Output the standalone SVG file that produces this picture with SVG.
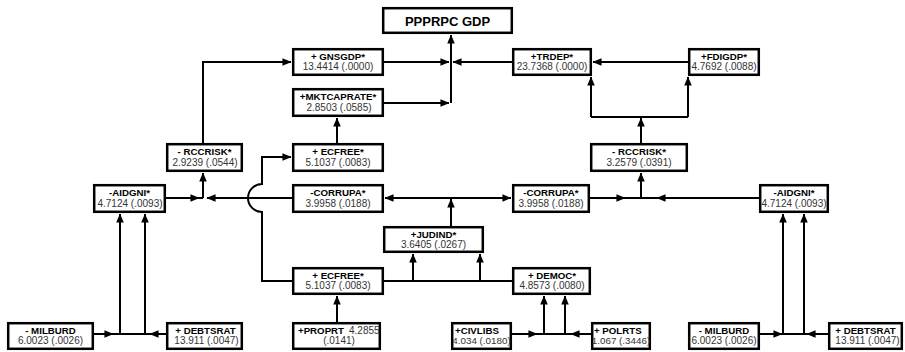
<svg xmlns="http://www.w3.org/2000/svg" width="905" height="352" viewBox="0 0 905 352">
<defs>
<marker id="ah" markerUnits="userSpaceOnUse" viewBox="0 0 10 10" refX="9.5" refY="5" markerWidth="9" markerHeight="9" orient="auto">
<path d="M0,0.8 L10,5 L0,9.2 z" fill="#000"/>
</marker>
<style>
.box{fill:#fff;stroke:#000;stroke-width:2.5}
.c path{fill:none;stroke:#000;stroke-width:2}
.a{marker-end:url(#ah)}
text{font-family:"Liberation Sans",Arial,Helvetica,sans-serif;text-anchor:middle}
.t{font-size:9.7px;font-weight:bold;fill:#000}
.v{font-size:10px;fill:#333}
.n{font-size:9.8px}
.title{font-size:13px;font-weight:bold;fill:#000}
</style>
</defs>
<rect width="905" height="352" fill="#fff"/>

<g id="connectors" class="c">
<path d="M384,62 H449" class="a"/>
<path d="M512,62 H453" class="a"/>
<path d="M384,103 H449" class="a"/>
<path d="M451,103 V35" class="a"/>
<path d="M203,143 V62 H291" class="a"/>
<path d="M337,143 V118" class="a"/>
<path d="M688,62 H593" class="a"/>
<path d="M641,143 V118" class="a"/>
<path d="M591,117 H688"/>
<path d="M591,117 V77" class="a"/>
<path d="M688,117 V77" class="a"/>
<path d="M166,198 H199" class="a"/>
<path d="M199,198 H203"/>
<path d="M292,198 H207" class="a"/>
<path d="M203,198 V173" class="a"/>
<path d="M292,281 H262 V212 A14,14 0 0 1 262,184 V157 H291" class="a"/>
<path d="M451,198 H385" class="a"/>
<path d="M451,198 H511" class="a"/>
<path d="M451,226 V199" class="a"/>
<path d="M590,198 H625" class="a"/>
<path d="M625,198 H641"/>
<path d="M759,198 H657" class="a"/>
<path d="M657,198 H641"/>
<path d="M641,198 V173" class="a"/>
<path d="M384,281 H512"/>
<path d="M413,281 V254" class="a"/>
<path d="M480,281 V254" class="a"/>
<path d="M337,322 V296" class="a"/>
<path d="M512,334 H537" class="a"/>
<path d="M537,334 H544"/>
<path d="M591,334 H571" class="a"/>
<path d="M571,334 H565"/>
<path d="M544,334 V296" class="a"/>
<path d="M565,334 V296" class="a"/>
<path d="M544,334 H565"/>
<path d="M94,334 H113" class="a"/>
<path d="M113,334 H120"/>
<path d="M166,334 H150" class="a"/>
<path d="M150,334 H145"/>
<path d="M120,334 H145"/>
<path d="M120,334 V214" class="a"/>
<path d="M145,334 V214" class="a"/>
<path d="M760,334 H782" class="a"/>
<path d="M782,334 H783"/>
<path d="M828,334 H807" class="a"/>
<path d="M807,334 H804"/>
<path d="M783,334 H804"/>
<path d="M783,334 V214" class="a"/>
<path d="M804,334 V214" class="a"/>
</g>

<g id="ppprpc">
<rect class="box" x="383.2" y="8.2" width="128.6" height="24.6"/>
<text class="title" x="447.5" y="25.5">PPPRPC GDP</text>
</g>
<g id="gnsgdp">
<rect class="box" x="293.2" y="49.2" width="89.6" height="25.6"/>
<text class="t" x="338" y="59.5">+ GNSGDP*</text>
<text class="v" x="338" y="70">13.4414 (.0000)</text>
</g>
<g id="mktcaprate">
<rect class="box" x="293.2" y="89.2" width="89.6" height="26.6"/>
<text class="t" x="338" y="100">+MKTCAPRATE*</text>
<text class="v" x="339" y="111">2.8503 (.0585)</text>
</g>
<g id="ecfree-top">
<rect class="box" x="293.2" y="144.2" width="89.6" height="26.6"/>
<text class="t" x="338" y="155">+ ECFREE*</text>
<text class="v" x="338" y="166">5.1037 (.0083)</text>
</g>
<g id="trdep">
<rect class="box" x="513.2" y="49.2" width="77.6" height="25.6"/>
<text class="t" x="552" y="59.5">+TRDEP*</text>
<text class="v" x="552" y="70">23.7368 (.0000)</text>
</g>
<g id="fdigdp">
<rect class="box" x="689.2" y="49.2" width="69.6" height="25.6"/>
<text class="t" x="724" y="59.5">+FDIGDP*</text>
<text class="v" x="724" y="70">4.7692 (.0088)</text>
</g>
<g id="rccrisk-left">
<rect class="box" x="167.2" y="144.2" width="74.6" height="26.6"/>
<text class="t" x="204.5" y="155">- RCCRISK*</text>
<text class="v" x="205" y="166">2.9239 (.0544)</text>
</g>
<g id="rccrisk-right">
<rect class="box" x="591.2" y="144.2" width="95.6" height="26.6"/>
<text class="t" x="639" y="155">- RCCRISK*</text>
<text class="v" x="639" y="166">3.2579 (.0391)</text>
</g>
<g id="aidgni-left">
<rect class="box" x="94.2" y="185.2" width="70.6" height="26.6"/>
<text class="t" x="129.5" y="196">-AIDGNI*</text>
<text class="v" x="130" y="207">4.7124 (.0093)</text>
</g>
<g id="corrupa-left">
<rect class="box" x="293.2" y="185.2" width="89.6" height="26.6"/>
<text class="t" x="338" y="196">-CORRUPA*</text>
<text class="v" x="338" y="207">3.9958 (.0188)</text>
</g>
<g id="corrupa-right">
<rect class="box" x="513.2" y="185.2" width="75.6" height="26.6"/>
<text class="t" x="551" y="196">-CORRUPA*</text>
<text class="v" x="551" y="207">3.9958 (.0188)</text>
</g>
<g id="aidgni-right">
<rect class="box" x="760.2" y="185.2" width="67.6" height="26.6"/>
<text class="t" x="794" y="196">-AIDGNI*</text>
<text class="v" x="794" y="207">4.7124 (.0093)</text>
</g>
<g id="judind">
<rect class="box" x="384.2" y="227.2" width="98.6" height="24.6"/>
<text class="t" x="433.5" y="237.5">+JUDIND*</text>
<text class="v" x="433.5" y="248">3.6405 (.0267)</text>
</g>
<g id="ecfree-bottom">
<rect class="box" x="293.2" y="268.2" width="89.6" height="25.6"/>
<text class="t" x="338" y="278.5">+ ECFREE*</text>
<text class="v" x="338" y="289">5.1037 (.0083)</text>
</g>
<g id="democ">
<rect class="box" x="513.2" y="268.2" width="76.6" height="25.6"/>
<text class="t" x="552" y="278.5">+ DEMOC*</text>
<text class="v" x="552" y="289">4.8573 (.0080)</text>
</g>
<g id="milburd-left">
<rect class="box" x="8.2" y="323.2" width="84.6" height="25.6"/>
<text class="t" x="50.5" y="333.5">- MILBURD</text>
<text class="v" x="50.5" y="344">6.0023 (.0026)</text>
</g>
<g id="debtsrat-left">
<rect class="box" x="167.2" y="323.2" width="74.6" height="25.6"/>
<text class="t" x="205.5" y="333.5">+ DEBTSRAT</text>
<text class="v" x="206.5" y="344">13.911 (.0047)</text>
</g>
<g id="proprt">
<rect class="box" x="293.2" y="323.2" width="86.6" height="25.6"/>
<text x="298" y="333.5" style="text-anchor:start"><tspan class="t">+PROPRT</tspan><tspan class="v" dx="5">4.2855</tspan></text>
<text class="v" x="339" y="344">(.0141)</text>
</g>
<g id="civlibs">
<rect class="box" x="452.2" y="323.2" width="58.6" height="25.6"/>
<text class="t" x="455" y="333.5" style="text-anchor:start">+CIVLIBS</text>
<text class="v n" x="481.5" y="344">4.034 (.0180)</text>
</g>
<g id="polrts">
<rect class="box" x="592.2" y="323.2" width="57.6" height="25.6"/>
<text class="t" x="594" y="333.5" style="text-anchor:start">+ POLRTS</text>
<text class="v n" x="621" y="344">1.067 (.3446)</text>
</g>
<g id="milburd-right">
<rect class="box" x="689.2" y="323.2" width="69.6" height="25.6"/>
<text class="t" x="724" y="333.5">- MILBURD</text>
<text class="v" x="724" y="344">6.0023 (.0026)</text>
</g>
<g id="debtsrat-right">
<rect class="box" x="829.2" y="323.2" width="72.6" height="25.6"/>
<text class="t" x="865.5" y="333.5">+ DEBTSRAT</text>
<text class="v" x="867.5" y="344">13.911 (.0047)</text>
</g>
</svg>
